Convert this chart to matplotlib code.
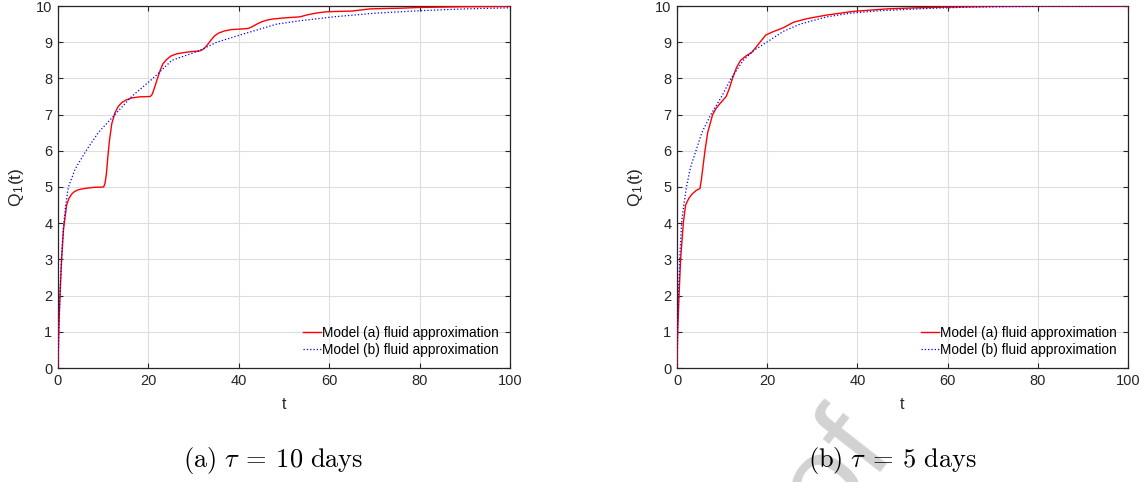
import matplotlib
matplotlib.use('Agg')
import matplotlib.pyplot as plt

plt.rcParams['font.family'] = ['Liberation Sans', 'DejaVu Sans']
plt.rcParams['mathtext.fontset'] = 'cm'

# model (a) and model (b) fluid approximations of Q_1(t), tau = 10 days
t_a10 = [0, 0.15, 0.45, 0.8, 1.2, 1.4, 1.9, 2.4, 3.0, 3.5, 4.2, 5.0, 6.5,
         8.0, 10.1, 10.4, 10.7, 11.0, 11.4, 11.9, 12.6, 13.3, 14.1, 15.0,
         16.3, 18.0, 20.4, 20.8, 21.3, 22.0, 22.6, 23.2, 24.0, 25.0, 26.3,
         27.7, 29.5, 31.4, 32.3, 33.0, 33.8, 34.6, 35.5, 36.8, 38.4, 40.0,
         42.1, 43.0, 44.0, 45.0, 46.2, 47.5, 49.1, 51.0, 53.5, 55.0, 56.5,
         58.0, 59.4, 62, 65, 67, 69, 72, 76, 80, 90, 100]
q_a10 = [0, 1.0, 2.0, 3.0, 3.8, 4.0, 4.5, 4.68, 4.8, 4.86, 4.91, 4.94, 4.97,
         4.99, 5.0, 5.1, 5.35, 5.8, 6.3, 6.75, 7.05, 7.22, 7.33, 7.4,
         7.46, 7.49, 7.5, 7.55, 7.72, 8.0, 8.22, 8.4, 8.52, 8.62, 8.68,
         8.71, 8.74, 8.76, 8.82, 8.92, 9.05, 9.17, 9.25, 9.31, 9.35, 9.36,
         9.38, 9.43, 9.5, 9.56, 9.61, 9.64, 9.66, 9.68, 9.7, 9.75, 9.79,
         9.82, 9.84, 9.85, 9.86, 9.89, 9.92, 9.93, 9.94, 9.96, 9.98, 9.99]

t_b10 = [0, 0.2, 0.5, 0.8, 1.2, 1.7, 2.3, 3.8, 6.2, 8.9, 12.6, 16.3, 21.0,
         25.2, 31.0, 35.1, 40.3, 48.4, 54.0, 60.9, 70, 80, 90, 100]
q_b10 = [0, 1.2, 2.3, 3.1, 3.9, 4.5, 5.0, 5.5, 6.0, 6.5, 7.0, 7.5, 8.0,
         8.5, 8.75, 9.0, 9.2, 9.5, 9.6, 9.7, 9.8, 9.87, 9.92, 9.95]

# tau = 5 days
t_a5 = [0, 0.15, 0.45, 0.8, 1.4, 1.9, 2.6, 3.3, 4.2, 5.1, 5.4, 5.7, 6.2,
        6.8, 7.9, 8.7, 9.5, 10.2, 10.9, 11.6, 12.3, 13.2, 14.1, 15.3, 16.6,
        17.5, 18.4, 19.7, 21.5, 23.6, 25.8, 28.8, 33.2, 39.0, 46.5, 53, 60,
        70, 80, 100]
q_a5 = [0, 1.0, 2.0, 3.0, 4.0, 4.5, 4.68, 4.8, 4.9, 4.96, 5.2, 5.5, 6.0,
        6.5, 7.0, 7.18, 7.3, 7.4, 7.5, 7.72, 8.0, 8.3, 8.5, 8.62, 8.72,
        8.86, 9.0, 9.2, 9.3, 9.4, 9.55, 9.65, 9.75, 9.85, 9.92, 9.95, 9.97,
        9.99, 9.995, 10.0]

t_b5 = [0, 0.1, 0.3, 0.6, 1.0, 1.5, 2.1, 3.0, 4.2, 5.5, 7.5, 9.9, 12.0,
        14.7, 17.0, 19.9, 23.6, 27.3, 33.2, 38.4, 45, 55, 65, 80, 100]
q_b5 = [0, 1.0, 2.0, 3.0, 4.0, 4.5, 5.0, 5.55, 6.0, 6.5, 7.0, 7.5, 8.0,
        8.5, 8.77, 9.0, 9.3, 9.5, 9.7, 9.8, 9.87, 9.93, 9.97, 9.99, 10.0]

captions = [r'$\mathrm{(a)}\ \tau\:=\:10\ \mathrm{days}$',
            r'$\mathrm{(b)}\ \tau\:=\:5\ \mathrm{days}$']
labels = ['Model (a) fluid approximation', 'Model (b) fluid approximation']

dark = '#262626'

fig = plt.figure(figsize=(11.45, 4.82), dpi=100)

# faint "Journal Pre-proof" stamp, only its tail shows at the bottom
fig.text(0.782, 0.060, 'Journal Pre-proof', fontsize=90, color='#d2d2d2',
         rotation=52, rotation_mode='anchor', ha='right', va='baseline',
         zorder=0)

ax1 = fig.add_axes([58/1145, 1-368/482, 452/1145, 362/482])
ax2 = fig.add_axes([677/1145, 1-368/482, 451/1145, 362/482])

panels = [(ax1, t_a10, q_a10, t_b10, q_b10),
          (ax2, t_a5, q_a5, t_b5, q_b5)]

for ax, ta, qa, tb, qb in panels:
    ax.set_facecolor('white')
    ax.plot(ta, qa, '-', color='red', lw=1.0, label=labels[0], zorder=3)
    ax.plot(tb, qb, ':', color='blue', lw=0.9, label=labels[1], zorder=3)
    ax.set_xlim(0, 100)
    ax.set_ylim(0, 10)
    ax.set_xticks(range(0, 101, 20))
    ax.set_yticks(range(0, 11))
    ax.grid(True, color='#dedede', lw=0.8)
    ax.set_axisbelow(True)
    ax.tick_params(direction='in', length=3.5, width=0.8, colors=dark,
                   labelsize=10.5, top=True, right=True, pad=4)
    for s in ax.spines.values():
        s.set_color(dark)
        s.set_linewidth(0.9)
    ax.set_xlabel('t', fontsize=11.5, color=dark, labelpad=7)
    ax.set_ylabel(r'Q$_\mathregular{1}$(t)', fontsize=12.5, color=dark,
                  labelpad=7)
    leg = ax.legend(loc='lower right', frameon=False, fontsize=9.8,
                    handlelength=1.3, handletextpad=0.1, labelspacing=0.25,
                    borderaxespad=0.6, borderpad=0.2)
    for txt in leg.get_texts():
        txt.set_color('black')

fig.text(273/1145, 1-461/482, captions[0], fontsize=19, ha='center',
         va='center', zorder=5)
fig.text(892/1145, 1-461/482, captions[1], fontsize=19, ha='center',
         va='center', zorder=5)

fig.savefig('out.png', dpi=100, facecolor='white')
